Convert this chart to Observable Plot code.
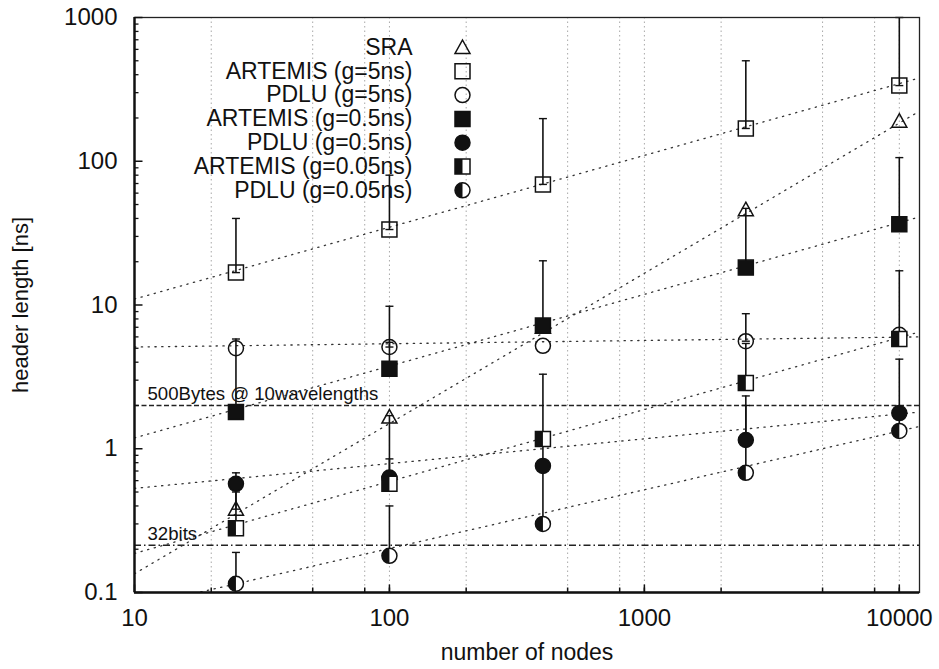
<!DOCTYPE html>
<html><head><meta charset="utf-8">
<script src="https://cdn.jsdelivr.net/npm/d3@7"></script>
<script src="https://cdn.jsdelivr.net/npm/@observablehq/plot@0.6"></script>
<style>html,body{margin:0;padding:0;background:#fff;}</style>
</head><body><div id="chart"></div>
<script>
// ---------- data ----------
const nodes = [25, 100, 400, 2500, 10000];
const seriesNames = ["SRA", "ARTEMIS (g=5ns)", "PDLU (g=5ns)", "ARTEMIS (g=0.5ns)", "PDLU (g=0.5ns)", "ARTEMIS (g=0.05ns)", "PDLU (g=0.05ns)"];

const sraMean     = [0.38, 1.66, 7.0, 46, 190];
const sraMax      = [0.50, null, null, null, null];
const art5Mean    = [16.8, 33.5, 69, 169, 336];
const art5Max     = [40, 80, 198, 500, 1000];
const pdlu5Mean   = [5.0, 5.1, 5.2, 5.6, 6.2];
const pdlu5Max    = [null, 9.8, null, 8.7, null];
const art05Mean   = [1.8, 3.6, 7.2, 18.2, 36.5];
const art05Max    = [5.8, 5.5, 20.3, 47, 106];
const pdlu05Mean  = [0.57, 0.63, 0.76, 1.15, 1.77];
const pdlu05Max   = [0.68, 0.85, 1.3, 2.33, 4.2];
const art005Mean  = [0.28, 0.57, 1.17, 2.87, 5.8];
const art005Max   = [0.62, 1.7, 3.3, 5.4, 17.3];
const pdlu005Mean = [0.115, 0.18, 0.30, 0.68, 1.33];
const pdlu005Max  = [0.19, 0.40, 0.76, 2.0, 1.6];

// fitted trend lines (value at the two ends of the x range)
const fitNodes   = [10, 12000];
const sraFit     = [0.135, 223];
const art5Fit    = [11.0, 380];
const pdlu5Fit   = [5.1, 6.0];
const art05Fit   = [1.19, 41];
const pdlu05Fit  = [0.53, 1.80];
const art005Fit  = [0.187, 6.5];
const pdlu005Fit = [0.079, 1.43];

// reference levels
const refValues = [2.0, 0.213];
const refLabels = ["500Bytes @ 10wavelengths", "32bits"];

// axis ticks
const xTickValues = [10, 100, 1000, 10000];
const yTickValues = [0.1, 1, 10, 100, 1000];
const xGrid = [20, 50, 80, 100, 200, 500, 800, 1000, 2000, 5000, 8000, 10000];
const xLabel = "number of nodes";
const yLabel = "header length [ns]";

// ---------- build tables ----------
const means = [sraMean, art5Mean, pdlu5Mean, art05Mean, pdlu05Mean, art005Mean, pdlu005Mean];
const maxes = [sraMax, art5Max, pdlu5Max, art05Max, pdlu05Max, art005Max, pdlu005Max];
const fits  = [sraFit, art5Fit, pdlu5Fit, art05Fit, pdlu05Fit, art005Fit, pdlu005Fit];

const points = [], bars = [], fitRows = [];
seriesNames.forEach((s, k) => {
  nodes.forEach((n, i) => {
    points.push({series: s, k, n, v: means[k][i]});
    if (maxes[k][i] != null) bars.push({series: s, n, lo: means[k][i], hi: maxes[k][i]});
  });
  fitNodes.forEach((n, i) => fitRows.push({series: s, n, v: fits[k][i]}));
});
const caps = bars.flatMap(b => [{n: b.n, v: b.lo}, {n: b.n, v: b.hi}]);

const yMinor = [];
for (const d of [0.1, 1, 10, 100]) for (let m = 2; m <= 9; m++) yMinor.push(m * d);
const yMajor = yTickValues;

// ---------- symbols ----------
const R = s => Math.sqrt(s / Math.PI);
const symSquare = {draw(c, s){const r = R(s); c.moveTo(-r,-r); c.lineTo(r,-r); c.lineTo(r,r); c.lineTo(-r,r); c.closePath();}};
const symHalfSquare = {draw(c, s){const r = R(s); c.moveTo(-r,-r); c.lineTo(0,-r); c.lineTo(0,r); c.lineTo(-r,r); c.closePath();}};
const symCircle = {draw(c, s){const r = R(s); c.moveTo(r,0); c.arc(0,0,r,0,2*Math.PI); c.closePath();}};
const symHalfCircle = {draw(c, s){const r = R(s); c.moveTo(0,-r); c.arc(0,0,r,-Math.PI/2,Math.PI/2,true); c.closePath();}};
const symTri = {draw(c, s){const r = R(s); c.moveTo(0,-r); c.lineTo(r,0.8*r); c.lineTo(-r,0.8*r); c.closePath();}};
const symCap = {draw(c, s){const r = R(s); c.moveTo(-r,0); c.lineTo(r,0);}};
const symVUp = {draw(c, s){const r = R(s); c.moveTo(0,0); c.lineTo(0,-r);}};
const symHRight = {draw(c, s){const r = R(s); c.moveTo(0,0); c.lineTo(r,0);}};

// marker styles per series: list of layers
const MR = 7.5;
const styles = [
  [{symbol: symTri, fill: "none", stroke: "#111"}],
  [{symbol: symSquare, fill: "none", stroke: "#111"}],
  [{symbol: symCircle, fill: "none", stroke: "#111"}],
  [{symbol: symSquare, fill: "#111", stroke: "#111"}],
  [{symbol: symCircle, fill: "#111", stroke: "#111"}],
  [{symbol: symSquare, fill: "#fff", stroke: "#111"}, {symbol: symHalfSquare, fill: "#111", stroke: "none"}],
  [{symbol: symCircle, fill: "#fff", stroke: "#111"}, {symbol: symHalfCircle, fill: "#111", stroke: "none"}]
];

const font = "Liberation Sans, Arial, Helvetica, sans-serif";

const marks = [];
// grid
marks.push(Plot.ruleX(xGrid, {stroke: "#a8a8a8", strokeWidth: 1, strokeDasharray: "1.5 3"}));
// reference lines
marks.push(Plot.ruleY([refValues[0]], {stroke: "#222", strokeWidth: 1.6, strokeDasharray: "5 2.5"}));
marks.push(Plot.ruleY([refValues[1]], {stroke: "#222", strokeWidth: 1.5, strokeDasharray: "7 3 1.5 3"}));
marks.push(Plot.text(refValues.map((v, i) => ({v, label: refLabels[i]})), {
  y: "v", text: "label", frameAnchor: "left", textAnchor: "start", lineAnchor: "middle", dx: 13, dy: -11,
  fontSize: 18.6, fill: "#111"
}));
// fit lines
marks.push(Plot.line(fitRows, {x: "n", y: "v", z: "series", stroke: "#333", strokeWidth: 1.3, strokeDasharray: "1.3 5.5", clip: true}));
// error bars
marks.push(Plot.ruleX(bars, {x: "n", y1: "lo", y2: "hi", stroke: "#111", strokeWidth: 1.6}));
marks.push(Plot.dot(caps, {x: "n", y: "v", symbol: symCap, r: 4, stroke: "#111", strokeWidth: 1.4, fill: "none"}));
// markers
styles.forEach((layers, k) => {
  layers.forEach(L => {
    marks.push(Plot.dot(points.filter(p => p.k === k), {x: "n", y: "v", symbol: L.symbol, r: MR, fill: L.fill, stroke: L.stroke, strokeWidth: 1.5}));
  });
});
// axis lines and ticks
marks.push(Plot.frame({stroke: "#222", strokeWidth: 1.3}));
marks.push(Plot.ruleX([10], {stroke: "#111", strokeWidth: 2.4}));
marks.push(Plot.ruleY([0.1], {stroke: "#111", strokeWidth: 2.4}));
marks.push(Plot.dot(xGrid, {x: d => d, frameAnchor: "bottom", symbol: symVUp, r: 5, stroke: "#111", strokeWidth: 1.5}));
marks.push(Plot.dot(xTickValues, {x: d => d, frameAnchor: "bottom", symbol: symVUp, r: 8, stroke: "#111", strokeWidth: 1.5}));
marks.push(Plot.dot(yMinor, {y: d => d, frameAnchor: "left", symbol: symHRight, r: 4, stroke: "#111", strokeWidth: 1.3}));
marks.push(Plot.dot(yMajor, {y: d => d, frameAnchor: "left", symbol: symHRight, r: 8, stroke: "#111", strokeWidth: 1.5}));
// axis titles
marks.push(Plot.text([xLabel], {frameAnchor: "bottom", textAnchor: "middle", lineAnchor: "middle", dy: 60, fontSize: 23, fill: "#111"}));
marks.push(Plot.text([yLabel], {frameAnchor: "left", textAnchor: "middle", lineAnchor: "middle", rotate: -90, dx: -114, fontSize: 22, fill: "#111"}));
// legend
seriesNames.forEach((s, k) => {
  const dy = 30 + 23.8 * k;
  marks.push(Plot.text([s], {frameAnchor: "top-left", dx: 278, dy, textAnchor: "end", lineAnchor: "middle", fontSize: 23, fill: "#111"}));
  styles[k].forEach(L => {
    marks.push(Plot.dot([0], {frameAnchor: "top-left", dx: 328, dy, symbol: L.symbol, r: MR, fill: L.fill, stroke: L.stroke, strokeWidth: 1.5}));
  });
});

const chart = Plot.plot({
  width: 939, height: 669,
  marginLeft: 134, marginRight: 20, marginTop: 17, marginBottom: 77,
  style: {fontFamily: font, fontSize: "24px", background: "#fff", color: "#111"},
  x: {type: "log", domain: [10, 12000], ticks: xTickValues, tickFormat: d => String(d), tickSize: 0, tickPadding: 16, label: null},
  y: {type: "log", domain: [0.1, 1000], ticks: yTickValues, tickFormat: d => String(d), tickSize: 0, tickPadding: 17, label: null},
  marks
});
document.getElementById("chart").appendChild(chart);
</script></body></html>
